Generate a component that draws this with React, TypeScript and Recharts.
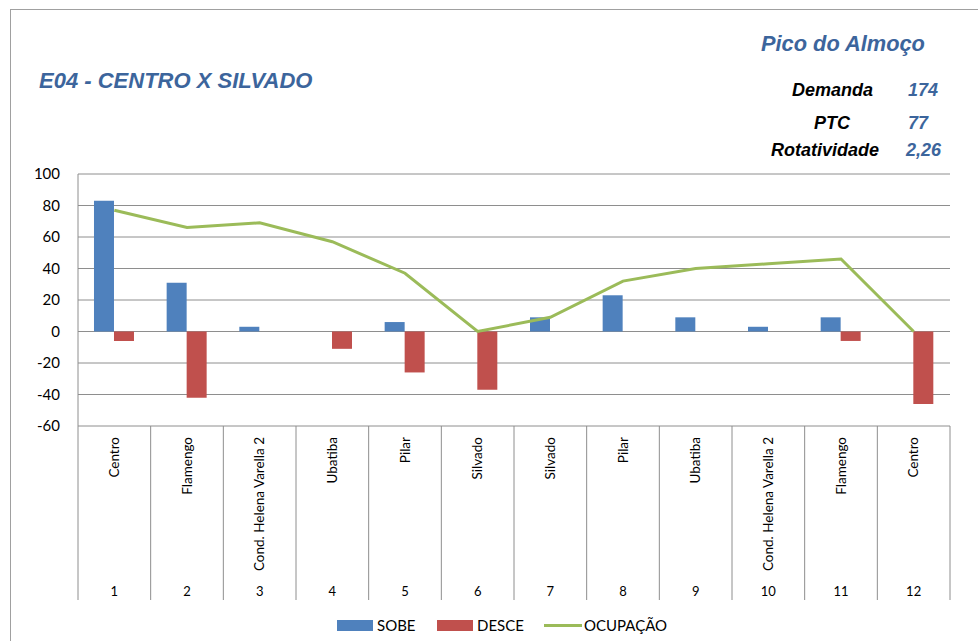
import { ComposedChart, Bar, Line, XAxis, YAxis, CartesianGrid } from 'recharts'

const stopNames = [
  'Centro',
  'Flamengo',
  'Cond. Helena Varella 2',
  'Ubatiba',
  'Pilar',
  'Silvado',
  'Silvado',
  'Pilar',
  'Ubatiba',
  'Cond. Helena Varella 2',
  'Flamengo',
  'Centro',
]
const stopNumbers = ['1', '2', '3', '4', '5', '6', '7', '8', '9', '10', '11', '12']
const sobe = [83, 31, 3, 0, 6, 0, 9, 23, 9, 3, 9, 0]
const desce = [-6, -42, 0, -11, -26, -37, 0, 0, 0, 0, -6, -46]
const ocupacao = [77, 66, 69, 57, 37, 0, 9, 32, 40, 43, 46, 0]
const yTicks = [-60, -40, -20, 0, 20, 40, 60, 80, 100]

const summaryLabels = ['Demanda', 'PTC', 'Rotatividade']
const summaryValues = ['174', '77', '2,26']

const legendItems = [
  { name: 'SOBE', color: '#4F81BD', kind: 'bar' },
  { name: 'DESCE', color: '#C0504D', kind: 'bar' },
  { name: 'OCUPAÇÃO', color: '#9BBB59', kind: 'line' },
]

const BLUE_TEXT = '#3C659C'
const GRID = '#8E8E8E'
const AXIS_FONT = 'Lato, "Open Sans", sans-serif'
const HEAD_FONT = '"Liberation Sans", Arial, sans-serif'

const W = 978
const H = 641
const PLOT_LEFT = 78
const PLOT_RIGHT = 950
const BAND = (PLOT_RIGHT - PLOT_LEFT) / stopNames.length

// header placement
const labelLefts = [792, 814, 771]
const valueLefts = [908, 908, 906]
const rowTops = [79, 112, 139]
const legendLefts = [337, 437, 544]

function CategoryTick(props: any) {
  const { x, y, payload } = props
  const i = payload.index
  const half = payload.offset || BAND / 2
  const tableH = 174
  return (
    <g>
      <line x1={x - half} y1={y} x2={x - half} y2={y + tableH} stroke={GRID} strokeWidth={1} />
      {i === stopNames.length - 1 && (
        <line x1={x + half} y1={y} x2={x + half} y2={y + tableH} stroke={GRID} strokeWidth={1} />
      )}
      <text
        x={x}
        y={y + 11}
        transform={`rotate(-90, ${x}, ${y + 11})`}
        textAnchor="end"
        dy="0.35em"
        fontSize={13.5}
        fontFamily={AXIS_FONT}
        fill="#000"
      >
        {stopNames[i]}
      </text>
      <text
        x={x}
        y={y + 165}
        textAnchor="middle"
        dy="0.35em"
        fontSize={13}
        fontFamily={AXIS_FONT}
        fill="#000"
      >
        {stopNumbers[i]}
      </text>
    </g>
  )
}

export default function App() {
  const data = stopNumbers.map((num, i) => ({
    num,
    name: stopNames[i],
    sobe: sobe[i],
    desce: desce[i],
    ocupacao: ocupacao[i],
  }))

  const headStyle = {
    position: 'absolute' as const,
    fontFamily: HEAD_FONT,
    fontWeight: 'bold' as const,
    fontStyle: 'italic' as const,
    whiteSpace: 'nowrap' as const,
  }

  return (
    <div
      style={{
        position: 'absolute',
        left: 0,
        top: 0,
        width: W,
        height: H,
        background: '#fff',
        overflow: 'hidden',
      }}
    >
      {/* outer frame */}
      <div
        style={{
          position: 'absolute',
          left: 10,
          top: 9,
          width: W,
          height: H,
          borderLeft: '1px solid #A0A0A0',
          borderTop: '1px solid #A0A0A0',
        }}
      />

      <div style={{ ...headStyle, left: 39, top: 68, fontSize: 22, lineHeight: '26px', color: BLUE_TEXT }}>
        E04 - CENTRO X SILVADO
      </div>

      <div style={{ ...headStyle, left: 761, top: 32, fontSize: 21.8, lineHeight: '24px', color: BLUE_TEXT }}>
        Pico do Almoço
      </div>

      {summaryLabels.map((label, i) => (
        <div key={label}>
          <div style={{ ...headStyle, left: labelLefts[i], top: rowTops[i], fontSize: 18, lineHeight: '22px', color: '#000' }}>
            {label}
          </div>
          <div style={{ ...headStyle, left: valueLefts[i], top: rowTops[i], fontSize: 18, lineHeight: '22px', color: BLUE_TEXT }}>
            {summaryValues[i]}
          </div>
        </div>
      ))}

      <div style={{ position: 'absolute', left: 0, top: 0 }}>
        <ComposedChart
          width={W}
          height={H}
          data={data}
          margin={{ top: 174, right: W - PLOT_RIGHT, bottom: 41, left: 0 }}
          barGap={0}
          barCategoryGap="22%"
        >
          <CartesianGrid vertical={false} stroke={GRID} strokeWidth={1} />
          <XAxis
            dataKey="num"
            type="category"
            interval={0}
            height={174}
            axisLine={false}
            tickLine={false}
            tickSize={0}
            tickMargin={0}
            tick={<CategoryTick />}
          />
          <YAxis
            type="number"
            domain={[-60, 100]}
            ticks={yTicks}
            interval={0}
            width={PLOT_LEFT}
            axisLine={{ stroke: GRID, strokeWidth: 1 }}
            tickLine={false}
            tickSize={0}
            tickMargin={18}
            tick={{ fontSize: 15, fill: '#000', fontFamily: AXIS_FONT }}
          />
          <Bar dataKey="sobe" fill="#4F81BD" isAnimationActive={false} />
          <Bar dataKey="desce" fill="#C0504D" isAnimationActive={false} />
          <Line
            type="linear"
            dataKey="ocupacao"
            stroke="#9BBB59"
            strokeWidth={3}
            dot={false}
            activeDot={false}
            isAnimationActive={false}
          />
        </ComposedChart>
      </div>

      {/* legend */}
      {legendItems.map((item, i) => (
        <div
          key={item.name}
          style={{
            position: 'absolute',
            left: legendLefts[i],
            top: 615,
            display: 'flex',
            alignItems: 'center',
            fontFamily: AXIS_FONT,
            fontSize: 15,
            color: '#000',
            lineHeight: '20px',
            whiteSpace: 'nowrap',
          }}
        >
          {item.kind === 'bar' ? (
            <div style={{ width: 36, height: 11, background: item.color }} />
          ) : (
            <div style={{ width: 38, height: 3, background: item.color }} />
          )}
          <span style={{ marginLeft: item.kind === 'bar' ? 4 : 2 }}>{item.name}</span>
        </div>
      ))}
    </div>
  )
}
